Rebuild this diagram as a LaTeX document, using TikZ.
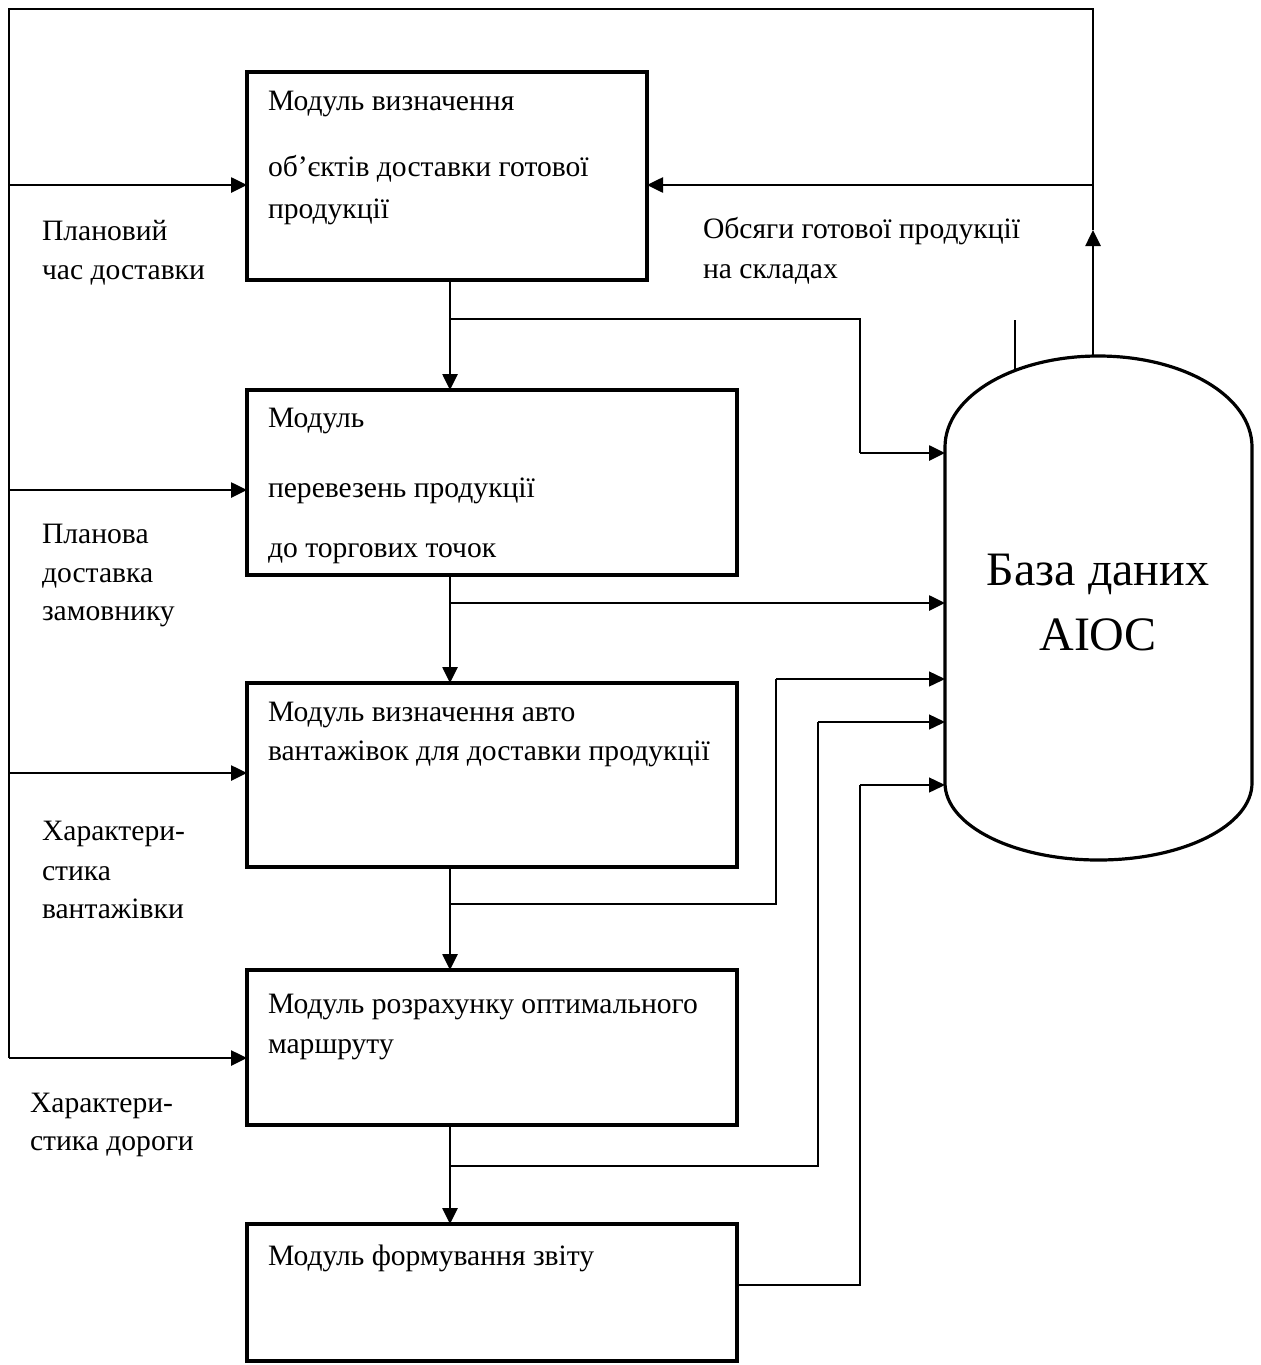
\documentclass[tikz,border=0pt]{standalone}
\usepackage{fontspec}
\setmainfont{Liberation Serif}
\usetikzlibrary{arrows.meta}

\tikzset{
  modbox/.style={draw, line width=2pt, rectangle, inner sep=0pt, outer sep=0pt},
  txt/.style={anchor=base west, inner sep=0pt, outer sep=0pt, font=\fontsize{14.8pt}{17pt}\selectfont},
  bigtxt/.style={anchor=base, inner sep=0pt, outer sep=0pt, font=\fontsize{24pt}{28pt}\selectfont},
  tip/.style={-{Triangle[length=8pt,width=7.5pt]}},
  flow/.style={line width=1.3pt, tip},
  wire/.style={line width=1.3pt},
  thinwire/.style={line width=0.7pt},
  thinflow/.style={line width=0.7pt, tip},
}

\begin{document}
\begin{tikzpicture}[x=0.5pt, y=-0.5pt]
  \useasboundingbox (0,0) rectangle (1261,1365);
  \fill[white] (0,0) rectangle (1261,1365);

  % module boxes
  \node[modbox, minimum width=200pt, minimum height=104pt] (b1) at (447,176) {};
  \node[modbox, minimum width=245pt, minimum height=92.5pt] (b2) at (492,482.5) {};
  \node[modbox, minimum width=245pt, minimum height=92pt] (b3) at (492,775) {};
  \node[modbox, minimum width=245pt, minimum height=77.5pt] (b4) at (492,1047.5) {};
  \node[modbox, minimum width=245pt, minimum height=68.5pt] (b5) at (492,1292.5) {};

  % box captions
  \node[txt] (t11) at (268,110) {Модуль визначення};
  \node[txt] (t12) at (268,176) {об’єктів доставки готової};
  \node[txt] (t13) at (268,218) {продукції};
  \node[txt] (t21) at (268,427) {Модуль};
  \node[txt] (t22) at (268,497) {перевезень продукції};
  \node[txt] (t23) at (268,557) {до торгових точок};
  \node[txt] (t31) at (268,721) {Модуль визначення авто};
  \node[txt] (t32) at (268,760) {вантажівок для доставки продукції};
  \node[txt] (t41) at (268,1013) {Модуль розрахунку оптимального};
  \node[txt] (t42) at (268,1053) {маршруту};
  \node[txt] (t51) at (268,1265) {Модуль формування звіту};

  % side labels
  \node[txt] (l11) at (42,240) {Плановий};
  \node[txt] (l12) at (42,279) {час доставки};
  \node[txt] (l21) at (42,543) {Планова};
  \node[txt] (l22) at (42,582) {доставка};
  \node[txt] (l23) at (42,620) {замовнику};
  \node[txt] (l31) at (42,840) {Характери-};
  \node[txt] (l32) at (42,880) {стика};
  \node[txt] (l33) at (42,918) {вантажівки};
  \node[txt] (l41) at (30,1112) {Характери-};
  \node[txt] (l42) at (30,1150) {стика дороги};
  \node[txt] (r11) at (703,238) {Обсяги готової продукції};
  \node[txt] (r12) at (703,278) {на складах};

  % database cylinder
  \draw[line width=1.6pt]
    (945,447) .. controls (945,396.2) and (1013.7,356) .. (1098.5,356)
    .. controls (1183.3,356) and (1252,396.2) .. (1252,447)
    -- (1252,783)
    .. controls (1252,825.5) and (1183.3,860) .. (1098.5,860)
    .. controls (1013.7,860) and (945,825.5) .. (945,783) -- cycle;
  \node[bigtxt] (db1) at (1098,585) {База даних};
  \node[bigtxt] (db2) at (1098,650) {AIOC};

  % frame coordinates
  \coordinate (tl) at (9,9);
  \coordinate (tr) at (1093,9);
  \coordinate (dbtop) at (1093,357);
  \coordinate (uptip) at (1093,230);
  \coordinate (back) at (1093,185);
  \coordinate (lb) at (9,1058);
  \coordinate (in1) at (9,185);
  \coordinate (in2) at (9,490);
  \coordinate (in3) at (9,773);
  \coordinate (in4) at (9,1058);
  \coordinate (cx) at (450,0);
  \coordinate (dbl) at (945,0);

  % feedback loop from the database
  \draw[flow] (dbtop) -- (uptip);
  \draw[wire] (uptip) -- (tr) -- (tl) -- (lb);
  \draw[flow] (back) -- (back -| b1.east);

  % plan inputs on the left
  \draw[flow] (in1) -- (in1 -| b1.west);
  \draw[flow] (in2) -- (in2 -| b2.west);
  \draw[flow] (in3) -- (in3 -| b3.west);
  \draw[flow] (in4) -- (in4 -| b4.west);

  % main chain of modules
  \draw[flow] (b1.south -| cx) -- (b2.north -| cx);
  \draw[flow] (b2.south -| cx) -- (b3.north -| cx);
  \draw[flow] (b3.south -| cx) -- (b4.north -| cx);
  \draw[flow] (b4.south -| cx) -- (b5.north -| cx);

  % outputs to the database
  \coordinate (o1a) at (450,319);
  \coordinate (o1b) at (683,319);
  \coordinate (o1c) at (860,319);
  \coordinate (o1d) at (860,453);
  \draw[wire] (o1a) -- (o1b);
  \draw[thinwire] (o1b) -- (o1c) -- (o1d);
  \draw[flow] (o1d) -- (o1d -| dbl);

  \coordinate (o2a) at (450,603);
  \draw[flow] (o2a) -- (o2a -| dbl);

  \coordinate (o3a) at (450,904);
  \coordinate (o3b) at (776,904);
  \coordinate (o3c) at (776,679);
  \draw[thinwire] (o3a) -- (o3b) -- (o3c);
  \draw[thinflow] (o3c) -- (o3c -| dbl);

  \coordinate (o4a) at (450,1166);
  \coordinate (o4b) at (818,1166);
  \coordinate (o4c) at (818,722);
  \draw[thinwire] (o4a) -- (o4b) -- (o4c);
  \draw[thinflow] (o4c) -- (o4c -| dbl);

  \coordinate (o5a) at (737,1285);
  \coordinate (o5b) at (860,1285);
  \coordinate (o5c) at (860,785);
  \draw[thinwire] (b5.east |- o5a) -- (o5b) -- (o5c);
  \draw[thinflow] (o5c) -- (o5c -| dbl);

  % short stub above the database
  \coordinate (s1) at (1015,320);
  \coordinate (s2) at (1015,371);
  \draw[wire] (s1) -- (s2);
\end{tikzpicture}
\end{document}
